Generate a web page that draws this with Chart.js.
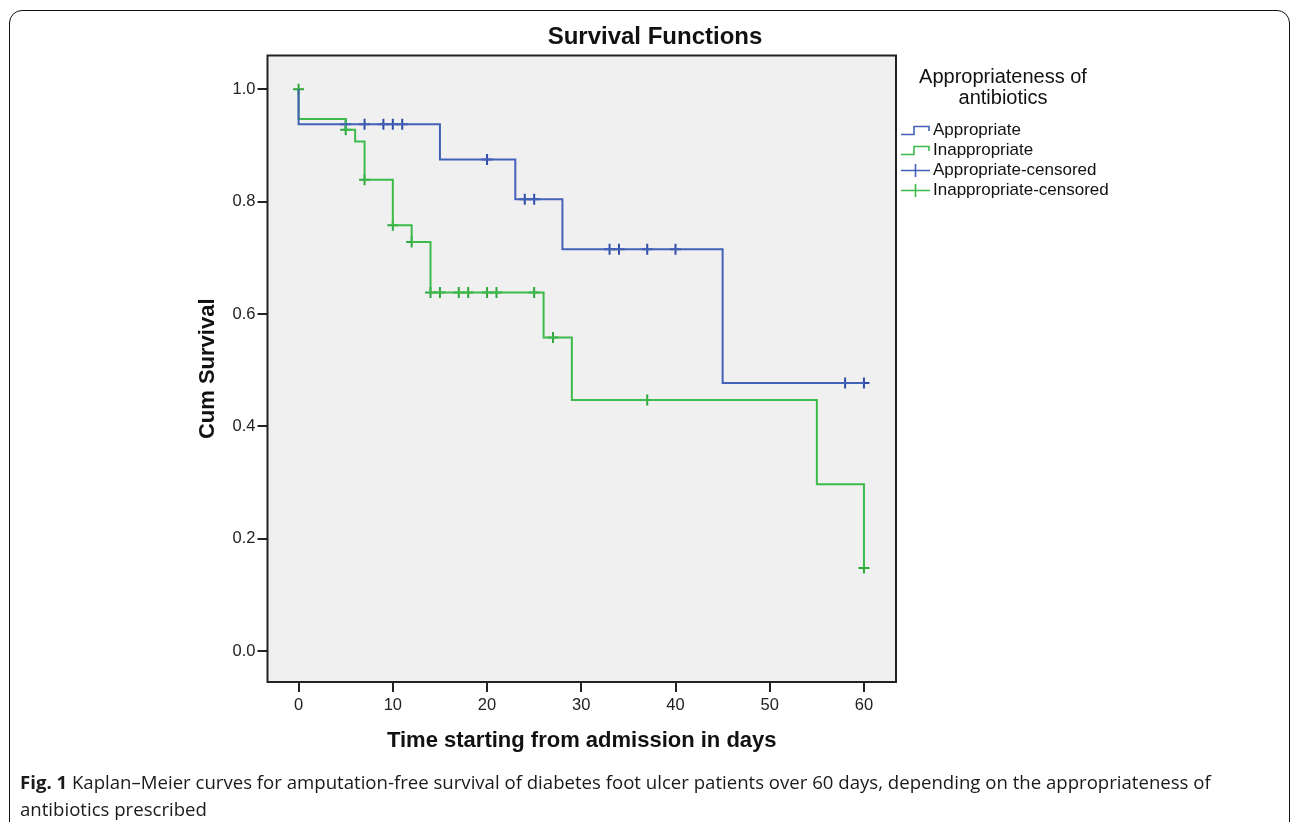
<!DOCTYPE html>
<html>
<head>
    <title>Survival Functions</title>
    <script src="https://cdn.jsdelivr.net/npm/chart.js@4.4.0/dist/chart.umd.min.js"></script>
    <style>
        body {
            margin: 0;
            background: #fff;
            width: 1292px;
            height: 822px;
            overflow: hidden;
            position: relative;
            font-family: "Liberation Sans", Arial, sans-serif;
            color: #111;
        }
        .frame {
            position: absolute;
            left: 9px;
            top: 10px;
            width: 1279px;
            height: 840px;
            border: 1.5px solid #111;
            border-radius: 13px;
        }
        .chart-container {
            position: absolute;
            left: 0;
            top: 0;
            width: 1292px;
            height: 822px;
        }
        .title {
            position: absolute;
            left: 455px;
            width: 400px;
            top: 22px;
            text-align: center;
            font-weight: bold;
            font-size: 24px;
        }
        .legend-title {
            position: absolute;
            left: 903px;
            width: 200px;
            top: 66px;
            text-align: center;
            font-size: 20px;
            line-height: 20.5px;
        }
        .legend-item {
            position: absolute;
            left: 900px;
            height: 20px;
            font-size: 17px;
            line-height: 20px;
            white-space: nowrap;
        }
        .legend-item svg {
            vertical-align: top;
            margin-right: 2px;
        }
        .caption {
            position: absolute;
            left: 20px;
            top: 768px;
            width: 1260px;
            font-family: "Open Sans", sans-serif;
            font-size: 18.6px;
            line-height: 27px;
            color: #1a1a1a;
        }
    </style>
</head>
<body>
    <div class="frame"></div>
    <div class="chart-container">
        <canvas id="myChart"></canvas>
    </div>
    <div class="title">Survival Functions</div>
    <div class="legend-title">Appropriateness of<br>antibiotics</div>
    <div id="legend"></div>
    <div class="caption"><b>Fig. 1</b> Kaplan–Meier curves for amputation-free survival of diabetes foot ulcer patients over 60 days, depending on the appropriateness of<br>antibiotics prescribed</div>

    <script>
        // survival steps (time, cumulative survival)
        const apptTimes = [0, 0, 15, 23, 28, 45, 60];
        const apptSurv = [1, 0.9375, 0.875, 0.804, 0.715, 0.477, 0.477];
        const inapTimes = [0, 0, 5, 6, 7, 10, 12, 14, 26, 29, 55, 60];
        const inapSurv = [1, 0.947, 0.928, 0.907, 0.839, 0.758, 0.728, 0.638, 0.558, 0.447, 0.297, 0.148];

        // censored observations
        const apptCensTimes = [5, 7, 9, 10, 11, 20, 24, 25, 33, 34, 37, 40, 58, 60];
        const apptCensSurv = [0.9375, 0.9375, 0.9375, 0.9375, 0.9375, 0.875, 0.804, 0.804, 0.715, 0.715, 0.715, 0.715, 0.477, 0.477];
        const inapCensTimes = [0, 5, 7, 10, 12, 14, 15, 17, 18, 20, 21, 25, 27, 37, 60];
        const inapCensSurv = [1, 0.928, 0.839, 0.758, 0.728, 0.638, 0.638, 0.638, 0.638, 0.638, 0.638, 0.638, 0.558, 0.447, 0.148];

        const xTicks = [0, 10, 20, 30, 40, 50, 60];
        const yTicks = [0, 0.2, 0.4, 0.6, 0.8, 1.0];
        const groups = ['Appropriate', 'Inappropriate'];

        const blue = '#4361b8';
        const green = '#3cba4a';
        const blueMark = '#2f4ca8';
        const greenMark = '#2ea83c';

        const toPts = (xs, ys) => xs.map((x, i) => ({ x: x, y: ys[i] }));

        // legend (html)
        const stepIcon = c => '<svg width="31" height="20"><path d="M1 14.5 H14 V6.5 H29 V11" fill="none" stroke="' + c + '" stroke-width="1.6"/></svg>';
        const crossIcon = c => '<svg width="31" height="20"><path d="M1 10.5 H30 M15.5 4 V17" fill="none" stroke="' + c + '" stroke-width="1.6"/></svg>';
        const legendRows = [
            [stepIcon(blue), groups[0]],
            [stepIcon(green), groups[1]],
            [crossIcon(blue), groups[0] + '-censored'],
            [crossIcon(green), groups[1] + '-censored']
        ];
        document.getElementById('legend').innerHTML = legendRows.map((r, i) =>
            '<div class="legend-item" style="top:' + (119.5 + i * 20.3) + 'px">' + r[0] + r[1] + '</div>').join('');

        const plotBox = {
            id: 'plotBox',
            beforeDatasetsDraw(chart) {
                const { ctx, chartArea: a } = chart;
                ctx.save();
                ctx.fillStyle = '#f0f0f0';
                ctx.fillRect(a.left, a.top, a.right - a.left, a.bottom - a.top);
                ctx.restore();
            },
            afterDraw(chart) {
                const { ctx, chartArea: a } = chart;
                ctx.save();
                ctx.strokeStyle = '#222';
                ctx.lineWidth = 2;
                ctx.strokeRect(a.left, a.top, a.right - a.left, a.bottom - a.top);
                ctx.restore();
            }
        };

        const axisFont = { family: '"Liberation Sans", Arial, sans-serif', size: 16.5 };
        const titleFont = { family: '"Liberation Sans", Arial, sans-serif', size: 22, weight: 'bold' };

        const ctx = document.getElementById('myChart');
        new Chart(ctx, {
            type: 'line',
            data: {
                datasets: [
                    {
                        label: groups[0],
                        data: toPts(apptTimes, apptSurv),
                        stepped: 'before',
                        borderColor: blue,
                        borderWidth: 2,
                        pointRadius: 0,
                        fill: false
                    },
                    {
                        label: groups[1],
                        data: toPts(inapTimes, inapSurv),
                        stepped: 'before',
                        borderColor: green,
                        borderWidth: 2,
                        pointRadius: 0,
                        fill: false
                    },
                    {
                        label: groups[0] + '-censored',
                        data: toPts(apptCensTimes, apptCensSurv),
                        showLine: false,
                        pointStyle: 'cross',
                        pointRadius: 5.5,
                        pointBorderWidth: 2,
                        borderColor: blueMark
                    },
                    {
                        label: groups[1] + '-censored',
                        data: toPts(inapCensTimes, inapCensSurv),
                        showLine: false,
                        pointStyle: 'cross',
                        pointRadius: 5.5,
                        pointBorderWidth: 2,
                        borderColor: greenMark
                    }
                ]
            },
            options: {
                responsive: true,
                maintainAspectRatio: false,
                animation: false,
                events: [],
                layout: {
                    padding: { left: 190, top: 55.5, right: 396, bottom: 64 }
                },
                plugins: {
                    legend: { display: false },
                    title: { display: false },
                    tooltip: { enabled: false }
                },
                scales: {
                    x: {
                        type: 'linear',
                        min: -3.3,
                        max: 63.4,
                        afterBuildTicks: s => { s.ticks = xTicks.map(v => ({ value: v })); },
                        afterFit: s => { s.height = 76; },
                        border: { display: false },
                        grid: { drawOnChartArea: false, drawTicks: true, tickLength: 10, color: '#222', lineWidth: 2 },
                        ticks: { font: axisFont, color: '#222', padding: 4, maxRotation: 0 },
                        title: {
                            display: true,
                            text: 'Time starting from admission in days',
                            font: titleFont,
                            color: '#111',
                            padding: { top: 0, bottom: 4 }
                        }
                    },
                    y: {
                        type: 'linear',
                        min: -0.055,
                        max: 1.06,
                        afterBuildTicks: s => { s.ticks = yTicks.map(v => ({ value: v })); },
                        afterFit: s => { s.width = 77.5; },
                        border: { display: false },
                        grid: { drawOnChartArea: false, drawTicks: true, tickLength: 10, color: '#222', lineWidth: 2 },
                        ticks: {
                            font: axisFont,
                            color: '#222',
                            padding: 2,
                            callback: v => v.toFixed(1)
                        },
                        title: {
                            display: true,
                            text: 'Cum Survival',
                            font: titleFont,
                            color: '#111',
                            padding: { top: 4.5, bottom: 0 }
                        }
                    }
                }
            },
            plugins: [plotBox]
        });
    </script>
</body>
</html>
